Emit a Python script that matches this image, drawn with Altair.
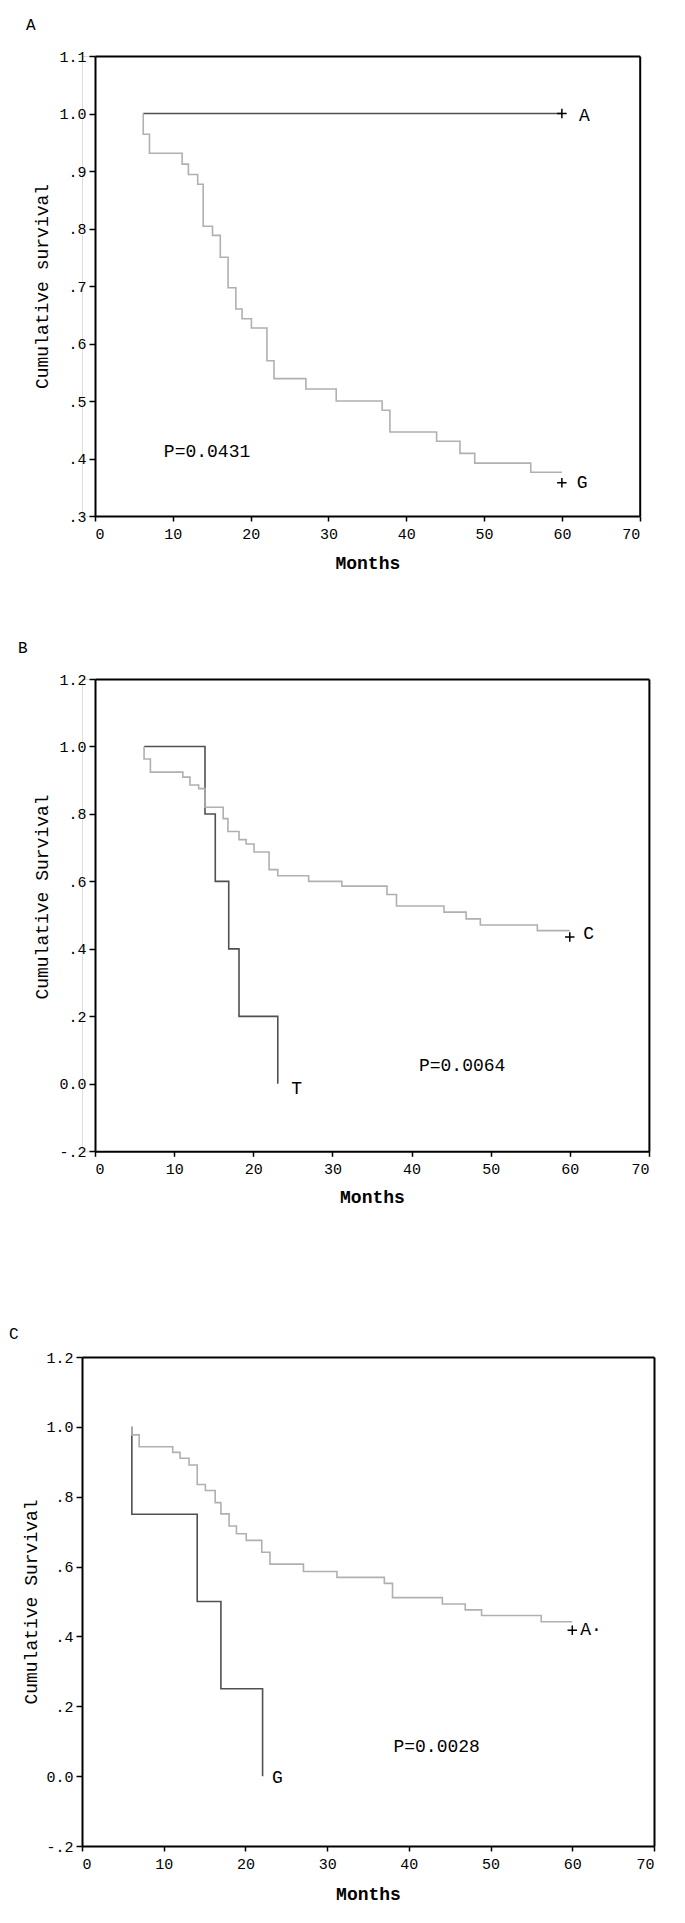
import altair as alt
import pandas as pd

MONO = "Liberation Mono"
DARK = "#505050"
LIGHT = "#b0b0b0"
PLUS = "M -1 0 L 1 0 M 0 -1 L 0 1"

MONTH_TICKS = [0, 10, 20, 30, 40, 50, 60, 70]
MONTH_LABELS = ["0", "10", "20", "30", "40", "50", "60", "70"]

# ---------------- Panel A ----------------
A_yticks = [0.3, 0.4, 0.5, 0.6, 0.7, 0.8, 0.9, 1.0, 1.1]
A_ylabels = [".3", ".4", ".5", ".6", ".7", ".8", ".9", "1.0", "1.1"]
A_dark_time = [6.2, 60.0]
A_dark_surv = [1.0, 1.0]
A_light_time = [6.2, 6.2, 7.0, 11.2, 12.0, 13.2, 13.9, 15.1, 16.1, 17.1, 18.1, 18.9,
                20.1, 22.1, 23.0, 27.1, 31.0, 36.9, 37.9, 43.9, 46.9, 48.8, 56.0, 60.0]
A_light_surv = [1.0, 0.964, 0.931, 0.912, 0.894, 0.877, 0.804, 0.788, 0.750, 0.697, 0.660, 0.643,
                0.627, 0.570, 0.539, 0.521, 0.500, 0.484, 0.446, 0.430, 0.409, 0.392, 0.376, 0.376]
A_cens_time = [60.0, 60.0]
A_cens_surv = [1.0, 0.358]
A_lab_text = ["A", "G"]
A_lab_time = [62.9, 62.6]
A_lab_surv = [0.996, 0.358]
A_p_text = ["P=0.0431"]
A_p_time = [14.4]
A_p_surv = [0.412]

# ---------------- Panel B ----------------
BC_yticks = [-0.2, 0.0, 0.2, 0.4, 0.6, 0.8, 1.0, 1.2]
BC_ylabels = ["-.2", "0.0", ".2", ".4", ".6", ".8", "1.0", "1.2"]
B_dark_time = [6.2, 13.9, 15.2, 16.9, 18.2, 23.1]
B_dark_surv = [1.0, 0.8, 0.6, 0.4, 0.2, 0.0]
B_light_time = [6.2, 6.2, 7.0, 11.1, 12.0, 13.1, 13.9, 16.2, 16.8, 18.2, 19.1, 20.1, 22.0,
                23.1, 27.0, 31.2, 36.9, 38.1, 44.1, 46.9, 48.7, 55.9, 60.0]
B_light_surv = [1.0, 0.963, 0.924, 0.909, 0.886, 0.875, 0.820, 0.786, 0.748, 0.724, 0.711, 0.687, 0.635,
                0.617, 0.600, 0.586, 0.561, 0.527, 0.509, 0.489, 0.471, 0.454, 0.454]
B_cens_time = [60.0]
B_cens_surv = [0.435]
B_lab_text = ["C", "T"]
B_lab_time = [62.4, 25.5]
B_lab_surv = [0.4445, -0.015]
B_p_text = ["P=0.0064"]
B_p_time = [46.4]
B_p_surv = [0.052]

# ---------------- Panel C ----------------
C_dark_time = [6.1, 6.1, 14.1, 17.0, 22.1]
C_dark_surv = [1.0, 0.75, 0.5, 0.25, 0.0]
C_light_time = [6.1, 6.1, 7.0, 11.1, 12.0, 13.1, 14.1, 15.1, 16.3, 17.0, 18.0, 18.9, 20.1,
                22.0, 23.0, 27.1, 31.2, 37.0, 38.0, 44.1, 46.9, 48.9, 56.2, 60.0]
C_light_surv = [1.0, 0.977, 0.943, 0.927, 0.910, 0.891, 0.835, 0.818, 0.783, 0.751, 0.716, 0.694, 0.675,
                0.641, 0.607, 0.586, 0.569, 0.552, 0.511, 0.493, 0.476, 0.460, 0.442, 0.442]
C_cens_time = [60.0]
C_cens_surv = [0.418]
C_lab_text = ["A\u00b7", "G"]
C_lab_time = [62.3, 23.9]
C_lab_surv = [0.418, -0.006]
C_p_text = ["P=0.0028"]
C_p_time = [43.4]
C_p_surv = [0.083]


def arr_expr(labels, values):
    lab = ",".join("'%s'" % l for l in labels)
    val = ",".join(repr(v) for v in values)
    return "[%s][indexof([%s], datum.value)]" % (lab, val)


def panel(letter, title_dx, title_offset, W, H, x0, ydom, yticks, ylabels, ytitle,
          ytitle_x, ytitle_y, xtitle_y, dark, light, cens, labs, ptxt):
    xs = alt.Scale(domain=[0, 70], range=[x0, W], nice=False, zero=False)
    ys = alt.Scale(domain=ydom, nice=False, zero=False)

    x_axis = alt.Axis(orient="bottom", values=MONTH_TICKS,
                      labelExpr=arr_expr(MONTH_LABELS, MONTH_TICKS),
                      title="Months", titleY=xtitle_y, titleBaseline="middle",
                      titleFont=MONO, titleFontSize=18, titleFontWeight="bold",
                      labelFont=MONO, labelFontSize=15, labelPadding=5, tickSize=5,
                      tickWidth=1.5, domainWidth=2, domainColor="black", tickColor="black",
                      domainOpacity=1, grid=False, labelBaseline="top")
    y_axis = alt.Axis(orient="left", values=yticks, labelExpr=arr_expr(ylabels, yticks),
                      title=ytitle, titleX=ytitle_x, titleY=ytitle_y, titleAngle=270,
                      titleBaseline="middle", titleAlign="center",
                      titleFont=MONO, titleFontSize=18, titleFontWeight="normal",
                      labelFont=MONO, labelFontSize=15, labelPadding=3, tickSize=6,
                      tickWidth=1.5, domainWidth=2, domainColor="black", tickColor="black",
                      domainOpacity=1, grid=False, offset=-x0)
    top_axis = alt.Axis(orient="top", labels=False, ticks=False, title="",
                        domainWidth=2, domainColor="black", domainOpacity=1, grid=False)
    right_axis = alt.Axis(orient="right", labels=False, ticks=False, title="",
                          domainWidth=2, domainColor="black", domainOpacity=1, grid=False)

    ddf = pd.DataFrame({"t": dark[0], "s": dark[1], "i": list(range(len(dark[0])))})
    ldf = pd.DataFrame({"t": light[0], "s": light[1], "i": list(range(len(light[0])))})
    cdf = pd.DataFrame({"t": cens[0], "s": cens[1]})
    labdf = pd.DataFrame({"txt": labs[0], "t": labs[1], "s": labs[2]})
    pdf = pd.DataFrame({"txt": ptxt[0], "t": ptxt[1], "s": ptxt[2]})

    l_dark = alt.Chart(ddf).mark_line(interpolate="step-after", color=DARK, strokeWidth=1.6).encode(
        x=alt.X("t:Q", scale=xs, axis=x_axis),
        y=alt.Y("s:Q", scale=ys, axis=y_axis),
        order="i:Q")
    l_light = alt.Chart(ldf).mark_line(interpolate="step-after", color=LIGHT, strokeWidth=1.6).encode(
        x=alt.X("t:Q", scale=xs, axis=None),
        y=alt.Y("s:Q", scale=ys, axis=None),
        order="i:Q")
    c_pts = alt.Chart(cdf).mark_point(shape=PLUS, size=90, filled=False, color="black",
                                      strokeWidth=1.5, opacity=1).encode(
        x=alt.X("t:Q", scale=xs, axis=top_axis),
        y=alt.Y("s:Q", scale=ys, axis=right_axis))
    t_lab = alt.Chart(labdf).mark_text(font=MONO, fontSize=18, color="black",
                                       align="center", baseline="middle").encode(
        x=alt.X("t:Q", scale=xs, axis=None),
        y=alt.Y("s:Q", scale=ys, axis=None),
        text="txt:N")
    t_p = alt.Chart(pdf).mark_text(font=MONO, fontSize=18, color="black",
                                   align="center", baseline="middle").encode(
        x=alt.X("t:Q", scale=xs, axis=None),
        y=alt.Y("s:Q", scale=ys, axis=None),
        text="txt:N")

    return alt.layer(l_dark, l_light, c_pts, t_lab, t_p).resolve_axis(
        x="independent", y="independent").properties(
        width=W, height=H,
        title=alt.TitleParams(text=letter, anchor="start", frame="group", orient="top",
                              offset=title_offset, dx=title_dx, align="left",
                              baseline="middle", font=MONO, fontSize=16,
                              fontWeight="normal", color="black"))


pA = panel("A", -56, 8, 557.7, 460, 13, [0.3, 1.1], A_yticks, A_ylabels,
           "Cumulative survival", -52.5, 230, 47,
           (A_dark_time, A_dark_surv), (A_light_time, A_light_surv),
           (A_cens_time, A_cens_surv), (A_lab_text, A_lab_time, A_lab_surv),
           (A_p_text, A_p_time, A_p_surv))
pB = panel("B", -64, 8, 566.9, 472.3, 13, [-0.2, 1.2], BC_yticks, BC_ylabels,
           "Cumulative Survival", -52.5, 217.5, 46,
           (B_dark_time, B_dark_surv), (B_light_time, B_light_surv),
           (B_cens_time, B_cens_surv), (B_lab_text, B_lab_time, B_lab_surv),
           (B_p_text, B_p_time, B_p_surv))
pC = panel("C", -73, 0, 572, 489, 0, [-0.2, 1.2], BC_yticks, BC_ylabels,
           "Cumulative Survival", -50.4, 244.5, 48.7,
           (C_dark_time, C_dark_surv), (C_light_time, C_light_surv),
           (C_cens_time, C_cens_surv), (C_lab_text, C_lab_time, C_lab_surv),
           (C_p_text, C_p_time, C_p_surv))

chart = alt.vconcat(alt.vconcat(pA, pB, spacing=66), pC, spacing=118).properties(
    padding={"left": 0, "top": 8, "right": 5, "bottom": 5}
).configure_view(stroke=None).configure_axis(
    domainColor="black", tickColor="black", labelColor="black", titleColor="black"
).configure(background="white")

chart.save("out.html", embed_options={"renderer": "svg", "actions": False})
